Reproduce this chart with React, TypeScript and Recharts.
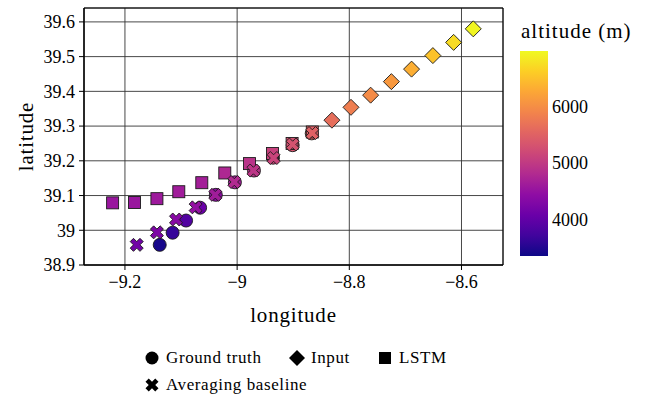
import { ScatterChart, Scatter, XAxis, YAxis, CartesianGrid, ReferenceArea } from 'recharts'

// axis + colour scale
const lonTicks = [-9.2, -9, -8.8, -8.6]
const latTicks = [38.9, 39, 39.1, 39.2, 39.3, 39.4, 39.5, 39.6]
const altTicks = [4000, 5000, 6000]
const ALT_MIN = 3350
const ALT_MAX = 6990

// ground truth (future track)
const truthLon = [-8.867, -8.901, -8.936, -8.97, -9.004, -9.038, -9.066, -9.091, -9.115, -9.138]
const truthLat = [39.279, 39.245, 39.209, 39.172, 39.138, 39.102, 39.065, 39.028, 38.993, 38.958]
const truthAlt = [5550, 5350, 5150, 4900, 4650, 4400, 4080, 3860, 3640, 3420]

// input track
const inputLon = [-8.579, -8.614, -8.651, -8.689, -8.725, -8.762, -8.797, -8.831]
const inputLat = [39.58, 39.541, 39.503, 39.464, 39.428, 39.389, 39.354, 39.317]
const inputAlt = [6954, 6735, 6517, 6335, 6116, 5970, 5825, 5643]

// LSTM prediction
const lstmLon = [-8.866, -8.902, -8.937, -8.978, -9.022, -9.063, -9.104, -9.143, -9.183, -9.222]
const lstmLat = [39.283, 39.25, 39.221, 39.192, 39.165, 39.137, 39.111, 39.091, 39.08, 39.079]
const lstmAlt = [5460, 5280, 5100, 4915, 4770, 4660, 4625, 4590, 4550, 4550]

// averaging baseline
const avgLon = [-8.866, -8.901, -8.935, -8.971, -9.005, -9.039, -9.074, -9.109, -9.143, -9.179]
const avgLat = [39.28, 39.247, 39.208, 39.172, 39.139, 39.102, 39.066, 39.031, 38.994, 38.958]
const avgAlt = [5500, 5315, 5130, 4950, 4810, 4625, 4480, 4370, 4260, 4150]

const PLASMA = ['#0d0887', '#41049d', '#6a00a8', '#8f0da4', '#b12a90', '#cc4778', '#e16462', '#f2844b', '#fca636', '#fcce25', '#f0f921']

function hexToRgb(h: string) {
  return [parseInt(h.slice(1, 3), 16), parseInt(h.slice(3, 5), 16), parseInt(h.slice(5, 7), 16)]
}

function plasma(t: number) {
  const x = Math.max(0, Math.min(1, t)) * (PLASMA.length - 1)
  const i = Math.min(PLASMA.length - 2, Math.floor(x))
  const f = x - i
  const a = hexToRgb(PLASMA[i])
  const b = hexToRgb(PLASMA[i + 1])
  const c = a.map((v, k) => Math.round(v + (b[k] - v) * f))
  return `rgb(${c[0]},${c[1]},${c[2]})`
}

const altColor = (alt: number) => plasma((alt - ALT_MIN) / (ALT_MAX - ALT_MIN))

const zip = (lon: number[], lat: number[], alt: number[]) =>
  lon.map((v, i) => ({ lon: v, lat: lat[i], alt: alt[i] }))

const truthData = zip(truthLon, truthLat, truthAlt)
const inputData = zip(inputLon, inputLat, inputAlt)
const lstmData = zip(lstmLon, lstmLat, lstmAlt)
const avgData = zip(avgLon, avgLat, avgAlt)

const EDGE = '#1a1a1a'
const SERIF = 'Liberation Serif'

function xPoints(cx: number, cy: number, s: number) {
  const a = s / 3
  const pts = [
    [a, s], [a, a], [s, a], [s, -a], [a, -a], [a, -s],
    [-a, -s], [-a, -a], [-s, -a], [-s, a], [-a, a], [-a, s],
  ]
  const c = Math.SQRT1_2
  return pts.map(([px, py]) => `${cx + (px - py) * c},${cy + (px + py) * c}`).join(' ')
}

const CircleShape = (p: any) => (
  <circle cx={p.cx} cy={p.cy} r={6.5} fill={altColor(p.payload.alt)} stroke={EDGE} strokeWidth={0.9} />
)
const DiamondShape = (p: any) => {
  const r = 8
  return (
    <polygon
      points={`${p.cx},${p.cy - r} ${p.cx + r},${p.cy} ${p.cx},${p.cy + r} ${p.cx - r},${p.cy}`}
      fill={altColor(p.payload.alt)} stroke={EDGE} strokeWidth={0.9}
    />
  )
}
const SquareShape = (p: any) => (
  <rect x={p.cx - 6} y={p.cy - 6} width={12} height={12} fill={altColor(p.payload.alt)} stroke={EDGE} strokeWidth={0.9} />
)
const XShape = (p: any) => (
  <polygon points={xPoints(p.cx, p.cy, 6.9)} fill={altColor(p.payload.alt)} stroke={EDGE} strokeWidth={0.9} />
)

const fmt = (v: number) => (v < 0 ? '\u2212' + Math.abs(v) : String(v))

// colorbar geometry
const CB_X = 520
const CB_W = 28
const CB_TOP = 51
const CB_BOT = 256
const cbY = (v: number) => CB_BOT - ((v - ALT_MIN) / (ALT_MAX - ALT_MIN)) * (CB_BOT - CB_TOP)

function LegendIcon({ kind }: { kind: string }) {
  return (
    <svg width={16} height={16} viewBox="-8 -8 16 16" style={{ display: 'block' }}>
      {kind === 'circle' && <circle cx={0} cy={0} r={6.5} fill="#000" />}
      {kind === 'diamond' && <polygon points="0,-8 8,0 0,8 -8,0" fill="#000" />}
      {kind === 'square' && <rect x={-6} y={-6} width={12} height={12} fill="#000" />}
      {kind === 'x' && <polygon points={xPoints(0, 0, 6.9)} fill="#000" />}
    </svg>
  )
}

const legendItems = [
  { label: 'Ground truth', kind: 'circle', x: 152, y: 358 },
  { label: 'Input', kind: 'diamond', x: 297, y: 358 },
  { label: 'LSTM', kind: 'square', x: 385, y: 358 },
  { label: 'Averaging baseline', kind: 'x', x: 152, y: 385 },
]

export default function App() {
  const stops = Array.from({ length: 21 }, (_, i) => i / 20)
  return (
    <div style={{ position: 'absolute', left: 0, top: 0, width: 648, height: 396, background: '#fff', fontFamily: SERIF }}>
      <ScatterChart width={648} height={396} margin={{ top: 8, right: 145, bottom: 0, left: 0 }} style={{ fontFamily: SERIF }}>
        <CartesianGrid stroke="#333" strokeWidth={0.9} />
        <XAxis
          type="number"
          dataKey="lon"
          domain={[-9.273, -8.526]}
          ticks={lonTicks}
          tickFormatter={fmt}
          height={131}
          tickSize={5}
          tickMargin={5}
          axisLine={{ stroke: '#000' }}
          tickLine={{ stroke: '#000' }}
          tick={{ fill: '#000', fontSize: 18, fontFamily: SERIF }}
          label={(props: any) => {
            const vb = props.viewBox
            return (
              <text x={vb.x + vb.width / 2} y={vb.y + 57} textAnchor="middle" fontSize={21} letterSpacing={0.8} fontFamily={SERIF} fill="#000">
                longitude
              </text>
            )
          }}
        />
        <YAxis
          type="number"
          dataKey="lat"
          domain={[38.9, 39.64]}
          ticks={latTicks}
          tickFormatter={fmt}
          width={84}
          tickSize={5}
          tickMargin={4}
          axisLine={{ stroke: '#000' }}
          tickLine={{ stroke: '#000' }}
          tick={{ fill: '#000', fontSize: 18, fontFamily: SERIF }}
          label={(props: any) => {
            const vb = props.viewBox
            const cx = 33
            const cy = vb.y + vb.height / 2
            return (
              <text x={cx} y={cy} transform={`rotate(-90, ${cx}, ${cy})`} textAnchor="middle" fontSize={21} letterSpacing={0.8} fontFamily={SERIF} fill="#000">
                latitude
              </text>
            )
          }}
        />
        <ReferenceArea x1={-9.273} x2={-8.526} y1={38.9} y2={39.64} fill="none" stroke="#000" strokeWidth={1} />
        <Scatter name="Ground truth" data={truthData} shape={CircleShape} isAnimationActive={false} />
        <Scatter name="Input" data={inputData} shape={DiamondShape} isAnimationActive={false} />
        <Scatter name="LSTM" data={lstmData} shape={SquareShape} isAnimationActive={false} />
        <Scatter name="Averaging baseline" data={avgData} shape={XShape} isAnimationActive={false} />
      </ScatterChart>

      <svg width={648} height={396} style={{ position: 'absolute', left: 0, top: 0, pointerEvents: 'none' }}>
        <defs>
          <linearGradient id="plasmaBar" x1="0" y1="1" x2="0" y2="0">
            {stops.map((t) => (
              <stop key={t} offset={t} stopColor={plasma(t)} />
            ))}
          </linearGradient>
        </defs>
        <text x={521} y={38} fontSize={21} letterSpacing={1} fontFamily={SERIF} fill="#000">
          altitude (m)
        </text>
        <rect x={CB_X} y={CB_TOP} width={CB_W} height={CB_BOT - CB_TOP} fill="url(#plasmaBar)" />
        {altTicks.map((v) => (
          <text key={v} x={CB_X + CB_W + 4} y={cbY(v)} dy="0.35em" fontSize={18} fontFamily={SERIF} fill="#000">
            {v}
          </text>
        ))}
      </svg>

      {legendItems.map((it) => (
        <div
          key={it.label}
          style={{ position: 'absolute', left: it.x - 8, top: it.y - 10, height: 20, display: 'flex', alignItems: 'center', gap: 6, fontFamily: SERIF }}
        >
          <LegendIcon kind={it.kind} />
          <span style={{ fontSize: 17, letterSpacing: 0.6, lineHeight: '20px', color: '#000' }}>{it.label}</span>
        </div>
      ))}
    </div>
  )
}
